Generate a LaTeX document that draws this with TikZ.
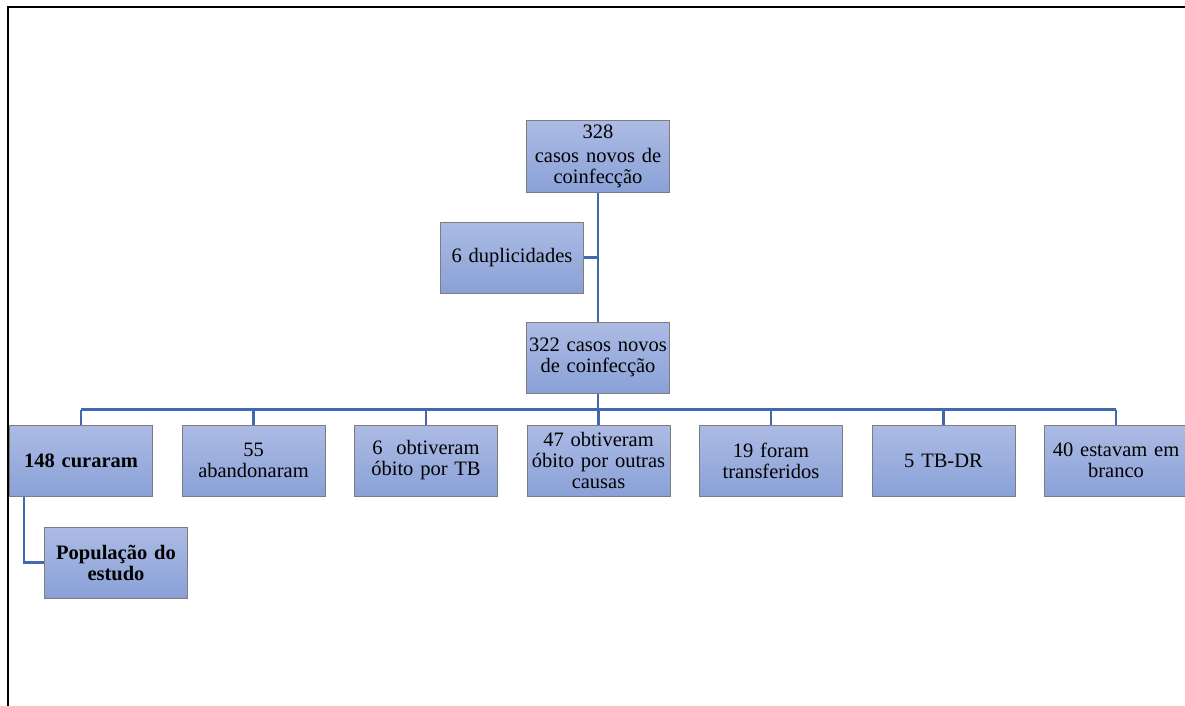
\documentclass[tikz,border=0pt]{standalone}
\usepackage{fontspec}
\setmainfont{Liberation Serif}
\usetikzlibrary{positioning}
\definecolor{boxtop}{RGB}{172,187,228}
\definecolor{boxbot}{RGB}{138,161,215}
\definecolor{boxline}{RGB}{125,125,125}
\definecolor{connblue}{RGB}{66,104,176}
\hyphenpenalty=10000

\begin{document}
\begin{tikzpicture}[x=1pt, y=-1pt, node distance={28.5pt},
    box/.style = {draw=boxline, line width=1pt, top color=boxtop, bottom color=boxbot,
                  minimum width=143pt, minimum height=71pt, inner sep=0.5pt,
                  text width=142pt, align=center,
                  font=\fontsize{20.5}{21}\selectfont},
    conn/.style = {draw=connblue, line width=2.5pt},
    frame/.style = {draw=black, line width=2.5pt}]
    \useasboundingbox (0,0) rectangle (1185,706);
    \draw[frame] (8,706) -- (8,7) -- (1185,7);

    \node[box] (N328) at (598,156.5) {328\\[3pt]casos novos de\\coinfecção};
    \node[box] (N6) at (512,257.5) {6 duplicidades};
    \node[box] (N322) at (598,357.5) {322 casos novos\\de coinfecção};

    \node[box] (N148) at (81,460.5) {\textbf{148 curaram}};
    \node[box] (N55) [right=of N148] {55\\abandonaram};
    \node[box] (N6TB) [right=of N55] {6\ \ obtiveram\\óbito por TB};
    \node[box] (N47) [right=of N6TB] {47 obtiveram\\óbito por outras\\causas};
    \node[box] (N19) [right=of N47] {19 foram\\transferidos};
    \node[box] (N5) [right=of N19] {5 TB-DR};
    \node[box] (N40) [right=of N5] {40 estavam em\\branco};
    \node[box] (Pop) at (116,562.5) {\textbf{População do\\estudo}};

    \draw[conn] (N328.south) -- (N322.north);
    \draw[conn] (N6.east) -- (N6.east -| N328.south);
    \draw[conn] (N322.south) -- ++(0,16) coordinate (bus);
    \draw[conn] (bus -| N148.north) -- (bus -| N40.north);
    \foreach \n in {N148,N55,N6TB,N47,N19,N5,N40}
        \draw[conn] (bus -| \n.north) -- (\n.north);
    \draw[conn] ([xshift=-57pt]N148.south) |- (Pop.west);
\end{tikzpicture}
\end{document}
